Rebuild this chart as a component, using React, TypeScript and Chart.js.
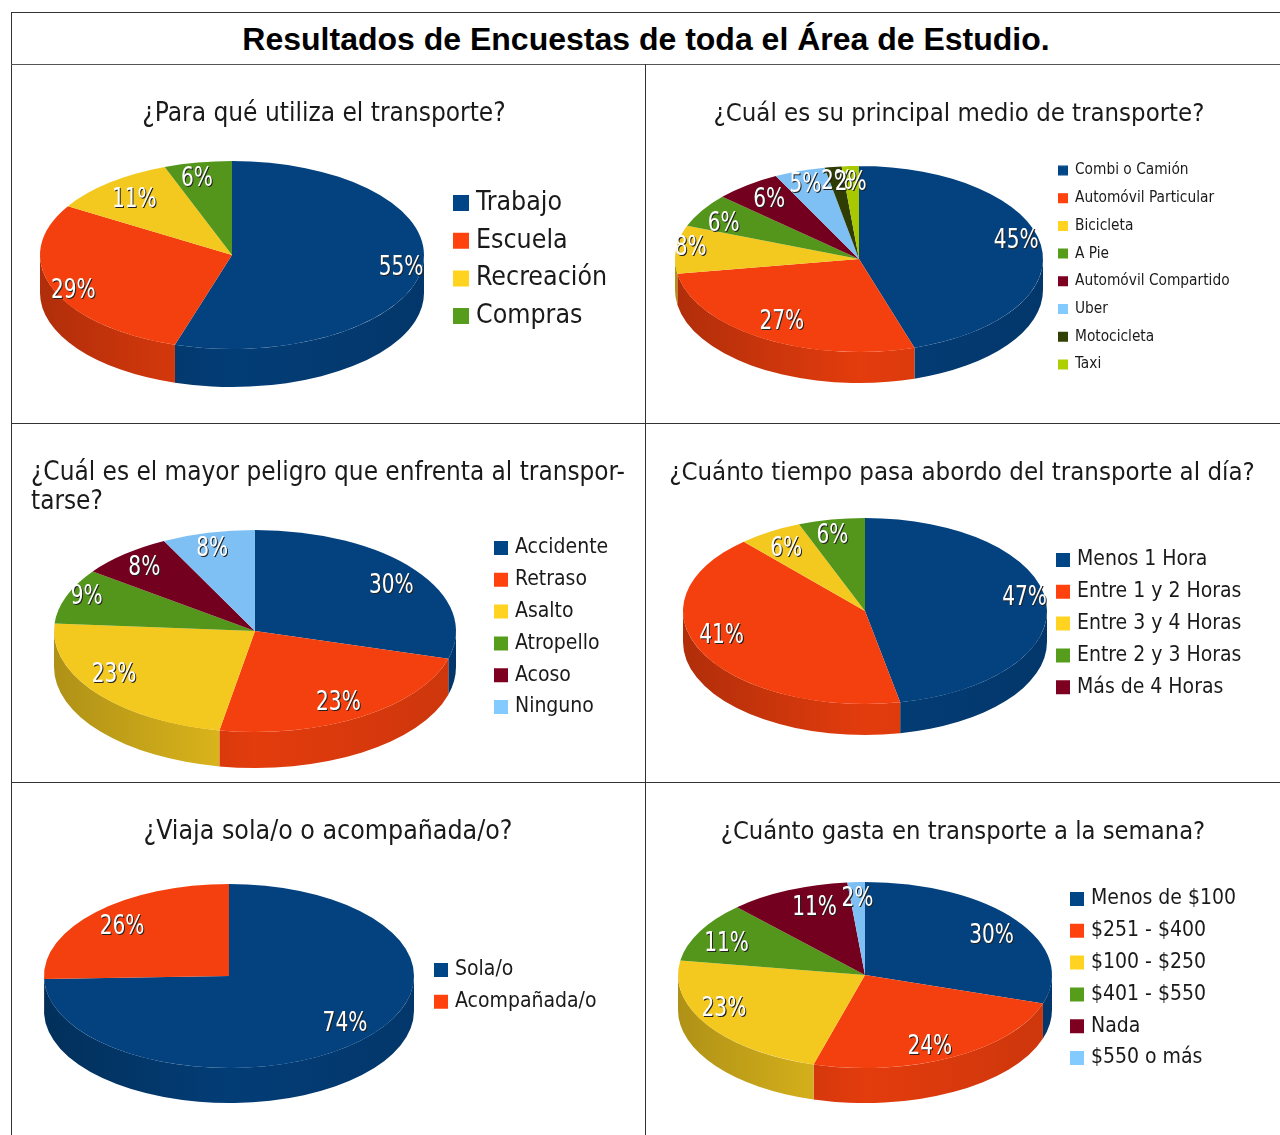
import React, { useEffect, useRef } from "react";
import { Chart, registerables } from "chart.js";

Chart.register(...registerables);

const FONT = '"DejaVu Sans Condensed", "DejaVu Sans"';

const usoLabels = ["Trabajo", "Escuela", "Recreación", "Compras"];
const usoValues = [54.8, 28.9, 10.6, 5.7];
const medioLabels = ["Combi o Camión", "Automóvil Particular", "Bicicleta", "A Pie", "Automóvil Compartido", "Uber", "Motocicleta", "Taxi"];
const medioValues = [45.4, 27.49, 8.4, 5.9, 5.9, 4.5, 1.5, 1.51];
const peligroLabels = ["Accidente", "Retraso", "Asalto", "Atropello", "Acoso", "Ninguno"];
const peligroValues = [29.5, 23.49, 23.4, 8.9, 7.5, 7.5];
const tiempoLabels = ["Menos 1 Hora", "Entre 1 y 2 Horas", "Entre 3 y 4 Horas", "Entre 2 y 3 Horas", "Más de 4 Horas"];
const tiempoValues = [46.9, 41.49, 5.7, 5.9, 0];
const viajeLabels = ["Sola/o", "Acompañada/o"];
const viajeValues = [74.49, 25.51];
const gastoLabels = ["Menos de $100", "$251 - $400", "$100 - $250", "$401 - $550", "Nada", "$550 o más"];
const gastoValues = [30.0, 24.49, 23.1, 10.5, 10.5, 1.51];

const topColors = ["#03427f", "#f4400e", "#f3c91f", "#53961b", "#740020", "#7fc0f4", "#2f3d04", "#a8c800"];
const legendColors = ["#004586", "#ff420e", "#ffd320", "#579d1c", "#7e0021", "#83caff", "#314004", "#aecf00"];

function shade(hex: string, f: number) {
  const n = parseInt(hex.slice(1), 16);
  const c = [(n >> 16) & 255, (n >> 8) & 255, n & 255].map((v) => Math.round(v * f));
  return `rgb(${c[0]},${c[1]},${c[2]})`;
}

type Panel = {
  box: [number, number, number, number];
  title: string[];
  titleAt: [number, number];
  titleSize: number;
  titleStart?: boolean;
  labels: string[];
  values: number[];
  pie: { cx: number; cy: number; rx: number; ry: number; depth: number };
  legend: { x: number; y: number; gap: number; box: number; font: number };
  labelR: number[];
  nudge: [number, number][];
};

const panels: Panel[] = [
  {
    box: [12, 65, 633, 358],
    title: ["¿Para qué utiliza el transporte?"],
    titleAt: [324, 114],
    titleSize: 26,
    labels: usoLabels,
    values: usoValues,
    pie: { cx: 232, cy: 255, rx: 192, ry: 94, depth: 38 },
    legend: { x: 453, y: 203, gap: 37.7, box: 16, font: 26.5 },
    labelR: [0.88, 0.9, 0.79, 0.82],
    nudge: [[2, 1], [3, 6], [-1, 2], [-7, 0]],
  },
  {
    box: [646, 65, 634, 358],
    title: ["¿Cuál es su principal medio de transporte?"],
    titleAt: [959, 114],
    titleSize: 25.5,
    labels: medioLabels,
    values: medioValues,
    pie: { cx: 859, cy: 259, rx: 184, ry: 93, depth: 31 },
    legend: { x: 1058, y: 170.5, gap: 27.7, box: 10, font: 15.3 },
    labelR: [0.87, 0.8, 0.92, 0.85, 0.83, 0.87, 0.85, 0.84],
    nudge: [[-1, -5], [0, 0], [0, -2], [-2, 7], [3, 3], [-2, 3], [0, 2], [-1, 2]],
  },
  {
    box: [12, 424, 633, 358],
    title: ["¿Cuál es el mayor peligro que enfrenta al transpor-", "tarse?"],
    titleAt: [31, 488],
    titleSize: 25.9,
    titleStart: true,
    labels: peligroLabels,
    values: peligroValues,
    pie: { cx: 255, cy: 631, rx: 201, ry: 101, depth: 36 },
    legend: { x: 494, y: 548, gap: 31.8, box: 14, font: 21 },
    labelR: [0.85, 0.85, 0.85, 0.85, 0.85, 0.85],
    nudge: [[0, 7], [-7, -1], [-6, -8], [-8, -4], [0, 3], [-3, 2]],
  },
  {
    box: [646, 424, 634, 358],
    title: ["¿Cuánto tiempo pasa abordo del transporte al día?"],
    titleAt: [962, 473],
    titleSize: 25.6,
    labels: tiempoLabels,
    values: tiempoValues,
    pie: { cx: 865, cy: 611, rx: 182, ry: 93, depth: 31 },
    legend: { x: 1056, y: 560, gap: 31.8, box: 14, font: 21 },
    labelR: [0.87, 0.88, 0.85, 0.85, 0.85],
    nudge: [[2, -5], [0, -11], [2, 6], [-4, 3], [0, 0]],
  },
  {
    box: [12, 783, 633, 352],
    title: ["¿Viaja sola/o o acompañada/o?"],
    titleAt: [328, 832],
    titleSize: 26.5,
    labels: viajeLabels,
    values: viajeValues,
    pie: { cx: 229, cy: 976, rx: 185, ry: 92, depth: 35 },
    legend: { x: 434, y: 970, gap: 31.8, box: 14, font: 21 },
    labelR: [0.85, 0.85],
    nudge: [[3, -6], [6, 6]],
  },
  {
    box: [646, 783, 634, 352],
    title: ["¿Cuánto gasta en transporte a la semana?"],
    titleAt: [963, 832],
    titleSize: 25.3,
    labels: gastoLabels,
    values: gastoValues,
    pie: { cx: 865, cy: 975, rx: 187, ry: 93, depth: 35 },
    legend: { x: 1070, y: 899, gap: 31.8, box: 14, font: 21 },
    labelR: [0.85, 0.85, 0.85, 0.85, 0.85, 0.85],
    nudge: [[-2, 8], [-10, 2], [-7, -8], [2, 6], [15, 5], [0, 3]],
  },
];

const VALUE_SIZE = 26;
const VALUE_STRETCH = 0.86;

function makePlugin(p: Panel) {
  const [ox, oy] = p.box;
  const tx = p.pie.cx - ox;
  const ty = p.pie.cy - oy;
  const k = p.pie.ry / p.pie.rx;
  return {
    id: "pie3d",
    afterLayout(chart: any) {
      const lg = chart.legend;
      if (lg) {
        const pad = lg.options.labels.padding;
        const stroke = Math.max(p.legend.font - 14, 0);
        lg.left = p.legend.x - ox + stroke / 2 - pad;
        lg.right = lg.left + lg.width + pad;
        lg.top = p.legend.y - oy - p.legend.font / 2 - pad;
        lg.bottom = lg.top + lg.height + pad;
      }
      const t = chart.titleBlock;
      if (t) {
        const lh = t.options.font.lineHeight * t.options.font.size;
        if (p.titleStart) {
          t.left = p.titleAt[0] - ox;
          t.right = t.left + 620;
          t.top = p.titleAt[1] - oy - (lh * p.title.length) / 2;
        } else {
          t.left = p.titleAt[0] - ox - 310;
          t.right = t.left + 620;
          t.top = p.titleAt[1] - oy - lh / 2;
        }
        t.bottom = t.top + t.height;
      }
    },
    beforeDatasetsDraw(chart: any) {
      const ctx = chart.ctx;
      const arcs = chart.getDatasetMeta(0).data;
      const { rx, ry, depth } = p.pie;
      arcs.forEach((arc: any, i: number) => {
        const a = Math.max(arc.startAngle, 0);
        const b = Math.min(arc.endAngle, Math.PI);
        if (b <= a) return;
        const base = topColors[i];
        const grad = ctx.createLinearGradient(tx - rx, 0, tx + rx, 0);
        grad.addColorStop(0, shade(base, 0.72));
        grad.addColorStop(0.5, shade(base, 0.93));
        grad.addColorStop(1, shade(base, 0.84));
        ctx.beginPath();
        ctx.ellipse(tx, ty, rx, ry, 0, a, b);
        ctx.ellipse(tx, ty + depth, rx, ry, 0, b, a, true);
        ctx.closePath();
        ctx.fillStyle = grad;
        ctx.fill();
      });
      const first = arcs[0];
      ctx.save();
      ctx.translate(tx, ty);
      ctx.scale(1, k);
      ctx.translate(-first.x, -first.y);
    },
    afterDatasetsDraw(chart: any) {
      const ctx = chart.ctx;
      ctx.restore();
      const arcs = chart.getDatasetMeta(0).data;
      const { rx, ry } = p.pie;
      arcs.forEach((arc: any, i: number) => {
        const v = p.values[i];
        if (!v) return;
        const mid = (arc.startAngle + arc.endAngle) / 2;
        const r = p.labelR[i];
        const x = tx + Math.cos(mid) * rx * r + p.nudge[i][0];
        const y = ty + Math.sin(mid) * ry * r + p.nudge[i][1];
        const text = `${Math.round(v)}%`;
        ctx.save();
        ctx.translate(x, y);
        ctx.scale(VALUE_STRETCH, 1);
        ctx.font = `${VALUE_SIZE}px ${FONT}`;
        ctx.textAlign = "center";
        ctx.textBaseline = "middle";
        ctx.fillStyle = "#222";
        ctx.fillText(text, 1.2, 1);
        ctx.fillStyle = "#fff";
        ctx.fillText(text, 0, 0);
        ctx.restore();
      });
    },
  };
}

function PieCell({ panel }: { panel: Panel }) {
  const ref = useRef<HTMLCanvasElement>(null);
  useEffect(() => {
    const stroke = Math.max(panel.legend.font - 14, 0);
    const boxW = panel.legend.box - stroke;
    const pad = panel.legend.gap - panel.legend.font;
    const chart = new Chart(ref.current!, {
      type: "pie",
      data: {
        labels: panel.labels,
        datasets: [
          {
            data: panel.values,
            backgroundColor: topColors.slice(0, panel.values.length),
            borderWidth: 0,
            radius: panel.pie.rx,
            clip: false,
          } as any,
        ],
      },
      options: {
        animation: false,
        responsive: false,
        layout: { padding: 0 },
        plugins: {
          tooltip: { enabled: false },
          title: {
            display: true,
            text: panel.title,
            color: "#1a1a1a",
            align: panel.titleStart ? "start" : "center",
            padding: 0,
            font: { family: FONT, size: panel.titleSize, weight: "normal", lineHeight: 29.5 / panel.titleSize },
          },
          legend: {
            display: true,
            position: "right",
            align: "start",
            labels: {
              color: "#1a1a1a",
              boxWidth: boxW,
              boxHeight: boxW,
              padding: pad,
              font: { family: FONT, size: panel.legend.font },
              generateLabels: () =>
                panel.labels.map((text, i) => ({
                  text,
                  fillStyle: legendColors[i],
                  strokeStyle: legendColors[i],
                  lineWidth: stroke,
                  fontColor: "#1a1a1a",
                  hidden: false,
                  index: i,
                  datasetIndex: 0,
                })),
            },
          },
        },
      } as any,
      plugins: [makePlugin(panel)],
    });
    return () => chart.destroy();
  }, [panel]);
  const [x, y, w, h] = panel.box;
  return (
    <canvas
      ref={ref}
      width={w}
      height={h}
      style={{ position: "absolute", left: x, top: y, width: w, height: h, display: "block" }}
    />
  );
}

const lineColor = "#333";
const rules: [number, number, number, number, string][] = [
  [11, 12, 1269, 1, lineColor],
  [11, 12, 1, 1123, lineColor],
  [11, 64, 1269, 1, "#555"],
  [645, 64, 1, 1071, lineColor],
  [11, 423, 1269, 1, lineColor],
  [11, 782, 1269, 1, lineColor],
];

export default function App() {
  return (
    <div style={{ position: "absolute", left: 0, top: 0, width: 1280, height: 1135, overflow: "hidden", background: "#fff" }}>
      {rules.map(([x, y, w, h, c], i) => (
        <div key={i} style={{ position: "absolute", left: x, top: y, width: w, height: h, background: c }} />
      ))}
      <div
        style={{
          position: "absolute",
          left: 12,
          top: 14,
          width: 1268,
          height: 51,
          fontFamily: '"Liberation Sans"',
          fontWeight: "bold",
          fontSize: 32,
          lineHeight: "51px",
          textAlign: "center",
          color: "#000",
          whiteSpace: "nowrap",
        }}
      >
        Resultados de Encuestas de toda el Área de Estudio.
      </div>
      {panels.map((p, i) => (
        <PieCell key={i} panel={p} />
      ))}
    </div>
  );
}
